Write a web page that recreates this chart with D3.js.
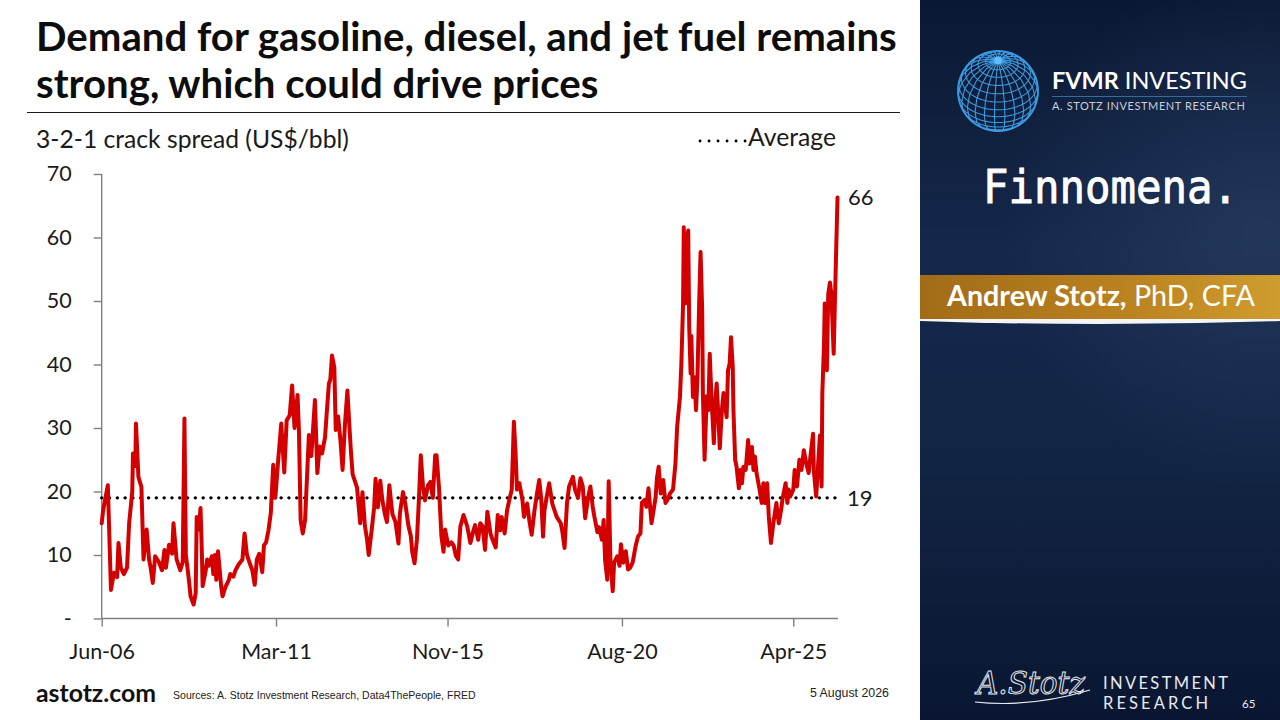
<!DOCTYPE html>
<html>
<head>
<meta charset="utf-8">
<script src="https://cdn.jsdelivr.net/npm/d3@7"></script>
<style>
  body { margin: 0; background: #fff; }
  svg { display: block; }
</style>
</head>
<body>
<svg id="slide" width="1280" height="720"></svg>
<script>
// ---- data ----
const obsDates = [
  "2006-06-01","2006-06-15","2006-08-01","2006-09-01","2006-10-01","2006-11-01","2006-11-15","2006-12-08",
  "2007-01-08","2007-02-08","2007-03-01","2007-04-01","2007-04-08","2007-05-01","2007-05-08","2007-06-01",
  "2007-07-01","2007-07-22","2007-08-22","2007-09-15","2007-10-01","2007-10-22","2007-11-15","2007-12-22",
  "2008-01-22","2008-02-15","2008-03-01","2008-04-01","2008-05-01","2008-05-15","2008-06-15","2008-07-22",
  "2008-08-15","2008-09-01","2008-09-15","2008-10-01","2008-10-15","2008-11-01","2008-12-01","2008-12-22",
  "2009-01-01","2009-01-22","2009-02-08","2009-02-22","2009-03-01","2009-04-01","2009-04-15","2009-05-01",
  "2009-06-01","2009-06-15","2009-07-01","2009-07-15","2009-08-01","2009-09-01","2009-09-15","2009-10-15",
  "2009-11-15","2009-12-01","2010-01-01","2010-01-22","2010-02-22","2010-04-01","2010-04-22","2010-05-15",
  "2010-06-08","2010-07-08","2010-08-01","2010-08-22","2010-09-15","2010-10-15","2010-11-01","2010-11-22",
  "2010-12-15","2011-01-08","2011-02-01","2011-02-22","2011-03-22","2011-04-22","2011-05-22","2011-06-15",
  "2011-07-15","2011-08-08","2011-09-01","2011-10-01","2011-10-15","2011-11-01","2011-11-22","2011-12-15",
  "2012-01-22","2012-02-15","2012-03-22","2012-04-15","2012-05-08","2012-06-01","2012-07-01","2012-07-15",
  "2012-08-08","2012-08-22","2012-09-08","2012-10-01","2012-10-15","2012-11-08","2012-12-01","2012-12-22",
  "2013-01-15","2013-02-08","2013-03-01","2013-03-15","2013-04-01","2013-04-22","2013-05-15","2013-06-01",
  "2013-06-15","2013-07-08","2013-08-01","2013-08-22","2013-09-08","2013-10-08","2013-11-01","2013-11-15",
  "2013-12-08","2014-01-01","2014-01-22","2014-02-15","2014-03-08","2014-04-01","2014-05-01","2014-06-01",
  "2014-07-01","2014-07-15","2014-08-15","2014-09-08","2014-10-08","2014-11-01","2014-11-15","2014-12-08",
  "2015-01-01","2015-01-22","2015-02-08","2015-03-01","2015-03-22","2015-04-22","2015-05-15","2015-06-08",
  "2015-07-01","2015-07-15","2015-08-08","2015-09-01","2015-09-22","2015-10-08","2015-11-08","2015-12-08",
  "2016-01-01","2016-01-22","2016-02-15","2016-03-08","2016-04-08","2016-05-15","2016-06-15","2016-07-08",
  "2016-08-01","2016-09-01","2016-09-22","2016-10-15","2016-11-08","2016-12-01","2017-01-01","2017-01-22",
  "2017-02-22","2017-03-15","2017-04-08","2017-04-22","2017-05-22","2017-06-15","2017-07-08","2017-08-01",
  "2017-08-22","2017-09-08","2017-09-22","2017-10-15","2017-11-15","2017-12-01","2018-01-01","2018-01-22",
  "2018-02-15","2018-03-15","2018-04-08","2018-05-01","2018-05-22","2018-06-08","2018-06-22","2018-07-15",
  "2018-08-08","2018-09-08","2018-10-01","2018-10-22","2018-12-01","2018-12-15","2019-01-08","2019-02-01",
  "2019-02-22","2019-04-01","2019-04-22","2019-05-22","2019-06-15","2019-07-08","2019-08-01","2019-09-01",
  "2019-09-22","2019-10-15","2019-11-01","2019-12-01","2019-12-15","2020-01-15","2020-02-01","2020-02-15",
  "2020-03-08","2020-03-22","2020-04-08","2020-05-01","2020-05-15","2020-06-15","2020-07-08","2020-07-22",
  "2020-08-15","2020-09-08","2020-10-01","2020-10-22","2020-11-15","2020-12-15","2021-01-08","2021-02-01",
  "2021-02-15","2021-03-15","2021-04-01","2021-04-22","2021-05-22","2021-07-01","2021-07-15","2021-08-01",
  "2021-08-22","2021-09-15","2021-10-08","2021-11-01","2021-11-22","2021-12-22","2022-01-15","2022-02-01",
  "2022-03-01","2022-03-15","2022-04-01","2022-04-08","2022-04-22","2022-05-08","2022-05-22","2022-06-01",
  "2022-06-15","2022-06-22","2022-07-08","2022-07-22","2022-08-08","2022-08-22","2022-09-08","2022-09-22",
  "2022-10-08","2022-10-15","2022-11-01","2022-11-22","2022-12-08","2022-12-22","2023-01-08","2023-02-01",
  "2023-02-15","2023-03-01","2023-03-15","2023-04-01","2023-04-22","2023-05-08","2023-05-22","2023-06-08",
  "2023-06-22","2023-07-08","2023-07-22","2023-08-08","2023-08-15","2023-09-01","2023-09-15","2023-10-08",
  "2023-10-22","2023-11-08","2023-11-22","2023-12-15","2024-01-08","2024-01-22","2024-02-15","2024-03-01",
  "2024-03-15","2024-04-01","2024-05-01","2024-05-22","2024-06-08","2024-06-22","2024-07-15","2024-08-01",
  "2024-08-22","2024-09-15","2024-10-15","2024-11-08","2024-12-01","2024-12-15","2025-01-15","2025-02-01",
  "2025-02-15","2025-03-01","2025-04-01","2025-04-15","2025-05-08","2025-06-01","2025-06-22","2025-07-15",
  "2025-08-08","2025-09-01","2025-09-22","2025-10-15","2025-10-22","2025-11-15","2025-12-01","2025-12-22",
  "2026-01-08","2026-01-15","2026-02-01","2026-02-08","2026-03-01","2026-03-15","2026-04-01","2026-04-15",
  "2026-05-08","2026-05-22","2026-06-15"
];
const crackSpread = [
  15.0,17.0,21.0,4.5,7.2,6.5,11.9,8.0,
  7.0,8.0,15.0,20.0,26.0,24.0,30.7,22.3,
  20.7,9.3,14.0,9.3,8.0,5.6,9.8,8.9,
  7.6,10.8,8.0,11.6,10.2,15.0,9.3,7.6,
  8.9,31.5,10.0,8.0,6.1,3.5,2.2,4.0,
  16.0,14.0,17.4,10.0,5.1,7.6,9.3,8.3,
  9.8,7.0,10.0,6.1,10.6,5.1,3.5,5.0,
  6.0,7.0,6.6,7.6,8.5,9.3,13.4,10.1,
  8.9,7.6,5.3,9.3,10.2,7.3,11.5,12.0,
  13.8,16.6,24.2,19.0,24.8,30.7,23.0,31.2,
  32.0,36.7,30.0,35.2,29.5,15.5,13.4,15.5,
  28.9,25.6,34.4,22.9,27.1,26.0,28.6,31.8,
  37.0,37.6,41.4,39.5,29.7,31.8,28.0,23.4,
  30.7,35.9,30.0,26.3,22.7,21.7,20.6,17.5,
  15.0,19.9,14.6,12.5,10.0,14.0,17.5,22.0,
  17.5,21.7,18.6,16.5,15.2,21.0,16.5,15.2,
  11.8,16.5,19.9,18.0,14.6,13.0,10.5,8.7,
  12.5,19.3,25.7,21.0,18.6,21.0,21.5,19.0,
  25.7,25.7,20.6,13.0,10.5,14.0,11.5,12.0,
  11.5,9.9,9.3,14.5,16.3,14.5,11.9,13.4,
  14.7,12.4,15.0,14.5,10.8,16.8,13.4,12.4,
  11.2,16.3,13.9,16.0,13.4,17.0,18.7,20.3,
  31.0,26.0,20.3,21.3,18.7,16.0,18.1,15.5,
  13.2,17.0,19.6,21.8,18.7,12.9,17.0,19.2,
  21.3,18.1,17.0,16.0,15.0,13.9,11.1,18.1,
  20.8,22.3,20.3,19.0,22.1,20.8,15.8,19.2,
  20.8,17.6,16.0,13.6,14.4,12.4,15.5,9.3,
  6.1,21.6,9.3,4.3,8.8,9.8,8.3,11.7,
  8.8,10.6,7.7,8.0,8.8,11.4,12.9,13.4,
  18.2,18.7,17.6,20.5,15.0,19.0,22.1,23.9,
  19.7,21.8,18.2,18.8,19.7,20.3,24.4,30.2,
  34.9,40.1,49.6,61.6,49.6,59.0,61.1,45.9,
  38.6,44.5,34.9,38.0,32.8,38.0,49.6,57.7,
  48.5,35.5,25.0,35.0,32.8,41.7,35.0,27.6,
  34.0,37.0,32.8,26.8,32.8,35.5,34.0,31.7,
  39.1,40.1,44.3,39.6,32.8,25.0,23.9,20.5,
  23.4,21.3,23.9,23.4,28.1,24.4,27.0,23.4,
  25.5,22.9,20.3,18.2,21.3,18.2,21.3,16.0,
  11.9,15.0,18.2,15.0,17.1,18.8,21.3,18.2,
  20.3,19.2,20.3,23.4,20.8,25.0,23.4,26.5,
  24.4,22.9,26.0,29.1,23.4,19.2,23.4,28.8,
  20.8,35.4,43.3,49.6,39.1,51.1,52.9,51.1,
  41.7,51.1,66.3
];
const averageValue = 19;
const yTicks = [0, 10, 20, 30, 40, 50, 60, 70];
const xTickDates = ["2006-06-01", "2011-03-01", "2015-11-01", "2020-08-01", "2025-04-01"];
const axisStart = "2006-06-01", axisEnd = "2026-06-20";

const titleLines = ["Demand for gasoline, diesel, and jet fuel remains", "strong, which could drive prices"];
const unitLabel = "3-2-1 crack spread (US$/bbl)";
const sourceNote = "Sources: A. Stotz Investment Research, Data4ThePeople, FRED";
const slideDate = "5 August 2026";
const pageNo = "65";

const parse = d3.timeParse("%Y-%m-%d");
const series = obsDates.map((d, i) => ({ date: parse(d), value: crackSpread[i] }));

const svg = d3.select("#slide");
const defs = svg.append("defs");

// scale width of a text to a target by changing font size
function fitWidth(sel, w) {
  const len = sel.node().getComputedTextLength();
  const fs = parseFloat(sel.attr("font-size"));
  sel.attr("font-size", fs * w / len);
  return fs * w / len;
}

// ---- backgrounds ----
svg.append("rect").attr("width", 1280).attr("height", 720).attr("fill", "#fff");

const pg = defs.append("linearGradient").attr("id", "panelGrad")
  .attr("x1", 0).attr("y1", 0).attr("x2", 0).attr("y2", 1);
pg.append("stop").attr("offset", "0%").attr("stop-color", "#0b1833");
pg.append("stop").attr("offset", "35%").attr("stop-color", "#15284a");
pg.append("stop").attr("offset", "65%").attr("stop-color", "#122443");
pg.append("stop").attr("offset", "100%").attr("stop-color", "#0a1631");
svg.append("rect").attr("x", 920).attr("y", 0).attr("width", 360).attr("height", 720)
  .attr("fill", "url(#panelGrad)");
const glow = defs.append("radialGradient").attr("id", "panelGlow")
  .attr("gradientUnits", "userSpaceOnUse").attr("cx", 1260).attr("cy", 230).attr("r", 260);
glow.append("stop").attr("offset", "0%").attr("stop-color", "#2c4468").attr("stop-opacity", 0.55);
glow.append("stop").attr("offset", "100%").attr("stop-color", "#2c4468").attr("stop-opacity", 0);
svg.append("rect").attr("x", 920).attr("y", 0).attr("width", 360).attr("height", 720)
  .attr("fill", "url(#panelGlow)");

// ---- title ----
const title = svg.append("g").attr("font-family", "Lato, 'Open Sans', sans-serif")
  .attr("font-weight", 700).attr("fill", "#0d0d0d");
const t1 = title.append("text").attr("x", 36).attr("y", 51).attr("font-size", 37).text(titleLines[0]);
const titleSize = fitWidth(t1, 861);
title.append("text").attr("x", 36).attr("y", 98).attr("font-size", titleSize).text(titleLines[1]);

svg.append("line").attr("x1", 27).attr("x2", 900).attr("y1", 112.5).attr("y2", 112.5)
  .attr("stroke", "#1a1a1a").attr("stroke-width", 1);

// ---- chart ----
const x = d3.scaleTime().domain([parse(axisStart), parse(axisEnd)]).range([101.7, 838]);
const y = d3.scaleLinear().domain([0, 70]).range([618.5, 174]);

const fontAxis = "Lato, 'Open Sans', sans-serif";

const unit = svg.append("text").attr("x", 36).attr("y", 148)
  .attr("font-family", fontAxis).attr("font-size", 21).attr("fill", "#1a1a1a").text(unitLabel);
fitWidth(unit, 313);

const yAxis = svg.append("g").attr("transform", "translate(101.7,0)")
  .call(d3.axisLeft(y).tickValues(yTicks).tickSize(8).tickPadding(22)
    .tickFormat(d => d === 0 ? "-" : d));
const xAxis = svg.append("g").attr("transform", "translate(0,618.5)")
  .call(d3.axisBottom(x).tickValues(xTickDates.map(parse)).tickSize(8).tickPadding(17)
    .tickFormat(d3.timeFormat("%b-%y")));

[yAxis, xAxis].forEach(g => {
  g.select(".domain").attr("stroke", "#7f7f7f").attr("stroke-width", 1.4);
  g.selectAll(".tick line").attr("stroke", "#7f7f7f").attr("stroke-width", 1.4);
  g.selectAll(".tick text").attr("font-family", fontAxis).attr("font-size", 21.5).attr("fill", "#1a1a1a");
});
// the x axis line starts at the y axis
xAxis.select(".domain").attr("d", `M${x.range()[0]},0H${x.range()[1]}`);
yAxis.select(".domain").attr("d", `M0,${y.range()[0]}V${y.range()[1]}`);

// average line
svg.append("line")
  .attr("x1", x.range()[0]).attr("x2", x(series[series.length - 1].date))
  .attr("y1", y(averageValue)).attr("y2", y(averageValue))
  .attr("stroke", "#000").attr("stroke-width", 3.4)
  .attr("stroke-linecap", "round").attr("stroke-dasharray", "0.1 7.7");

// crack spread line
const line = d3.line().x(d => x(d.date)).y(d => y(d.value));
svg.append("path").datum(series).attr("d", line)
  .attr("fill", "none").attr("stroke", "#d40000").attr("stroke-width", 4)
  .attr("stroke-linejoin", "round").attr("stroke-linecap", "round");

// end labels
const last = series[series.length - 1];
svg.append("text").attr("x", 848).attr("y", y(last.value)).attr("dy", "0.35em")
  .attr("font-family", fontAxis).attr("font-size", 22).attr("fill", "#1a1a1a")
  .text(d3.format(".0f")(last.value));
svg.append("text").attr("x", 847).attr("y", y(averageValue)).attr("dy", "0.35em")
  .attr("font-family", fontAxis).attr("font-size", 22).attr("fill", "#1a1a1a")
  .text(averageValue);

// legend
svg.append("line").attr("x1", 700).attr("x2", 746).attr("y1", 141).attr("y2", 141)
  .attr("stroke", "#000").attr("stroke-width", 2.8)
  .attr("stroke-linecap", "round").attr("stroke-dasharray", "0.1 8.9");
const leg = svg.append("text").attr("x", 748).attr("y", 146)
  .attr("font-family", fontAxis).attr("font-size", 21).attr("fill", "#1a1a1a").text("Average");
fitWidth(leg, 88);

// ---- footer ----
const site = svg.append("text").attr("x", 36).attr("y", 702)
  .attr("font-family", fontAxis).attr("font-weight", 700).attr("font-size", 22)
  .attr("fill", "#111").text("astotz.com");
fitWidth(site, 120);
const src = svg.append("text").attr("x", 173).attr("y", 699)
  .attr("font-family", "'Liberation Sans Narrow', 'Liberation Sans', sans-serif").attr("font-size", 11)
  .attr("fill", "#222").text(sourceNote);
fitWidth(src, 303);
const dt = svg.append("text").attr("x", 810).attr("y", 697)
  .attr("font-family", "'Liberation Sans Narrow', 'Liberation Sans', sans-serif").attr("font-size", 11)
  .attr("fill", "#222").text(slideDate);
fitWidth(dt, 79);

// ---- right panel ----
// globe logo
const globe = d3.geoOrthographic().scale(40).translate([998, 91]).rotate([10, -40]).clipAngle(90);
const gpath = d3.geoPath(globe);
svg.append("path").datum(d3.geoGraticule().step([15, 12])())
  .attr("d", gpath).attr("fill", "none").attr("stroke", "#3b9be0").attr("stroke-width", 1.1);
svg.append("path").datum({ type: "Sphere" })
  .attr("d", gpath).attr("fill", "none").attr("stroke", "#3b9be0").attr("stroke-width", 1.8);
svg.append("circle").attr("cx", globe([0, 90])[0]).attr("cy", globe([0, 90])[1]).attr("r", 4)
  .attr("fill", "#6cc4ff").attr("opacity", 0.8);

const brand = svg.append("text").attr("x", 1052).attr("y", 89)
  .attr("font-family", "Lato, sans-serif").attr("font-size", 20).attr("fill", "#fff");
brand.append("tspan").attr("font-weight", 700).text("FVMR");
brand.append("tspan").attr("font-weight", 400).text(" INVESTING");
fitWidth(brand, 195);
svg.append("line").attr("x1", 1052).attr("x2", 1247).attr("y1", 96.5).attr("y2", 96.5)
  .attr("stroke", "#2f6f9f").attr("stroke-width", 1);
svg.append("text").attr("x", 1052).attr("y", 110).attr("textLength", 194)
  .attr("font-family", "Lato, sans-serif").attr("font-size", 11).attr("fill", "#c9ced8")
  .attr("letter-spacing", 1.2).text("A. STOTZ INVESTMENT RESEARCH");

svg.append("text").attr("x", 983).attr("y", 203).attr("textLength", 255)
  .attr("lengthAdjust", "spacingAndGlyphs")
  .attr("font-family", "'DejaVu Sans Mono', monospace").attr("font-size", 47)
  .attr("fill", "#fff").attr("stroke", "#fff").attr("stroke-width", 0.9).text("Finnomena.");

// name banner
const bg = defs.append("linearGradient").attr("id", "goldGrad");
bg.append("stop").attr("offset", "0%").attr("stop-color", "#a26b17");
bg.append("stop").attr("offset", "55%").attr("stop-color", "#b9811f");
bg.append("stop").attr("offset", "100%").attr("stop-color", "#d09c2e");
svg.append("rect").attr("x", 920).attr("y", 275).attr("width", 360).attr("height", 44)
  .attr("fill", "url(#goldGrad)");
svg.append("path").attr("d", "M920,319 L1280,319 L1280,321 Q1100,327 920,321 Z").attr("fill", "#f4f4f4");
const nm = svg.append("text").attr("x", 947).attr("y", 306)
  .attr("font-family", "Lato, sans-serif").attr("font-size", 26).attr("fill", "#fff");
nm.append("tspan").attr("font-weight", 700).text("Andrew Stotz,");
nm.append("tspan").attr("font-weight", 400).text(" PhD, CFA");
fitWidth(nm, 308);

// bottom logo
svg.append("text").attr("x", 977).attr("y", 694).attr("textLength", 108)
  .attr("lengthAdjust", "spacingAndGlyphs")
  .attr("font-family", "'DejaVu Serif', serif").attr("font-style", "italic")
  .attr("font-size", 31).attr("fill", "none").attr("stroke", "#e6eaf0").attr("stroke-width", 1)
  .text("A.Stotz");
svg.append("path").attr("d", "M975,702 Q1030,708 1090,690").attr("fill", "none")
  .attr("stroke", "#e6eaf0").attr("stroke-width", 1.2);
svg.append("text").attr("x", 1103).attr("y", 689).attr("textLength", 125)
  .attr("font-family", "Lato, sans-serif").attr("font-size", 16.5).attr("fill", "#e6eaf0")
  .text("INVESTMENT");
svg.append("text").attr("x", 1103).attr("y", 709).attr("textLength", 105)
  .attr("font-family", "Lato, sans-serif").attr("font-size", 16.5).attr("fill", "#e6eaf0")
  .text("RESEARCH");
svg.append("text").attr("x", 1242).attr("y", 708)
  .attr("font-family", "Lato, sans-serif").attr("font-size", 11.5).attr("fill", "#e6eaf0")
  .text(pageNo);
</script>
</body>
</html>
